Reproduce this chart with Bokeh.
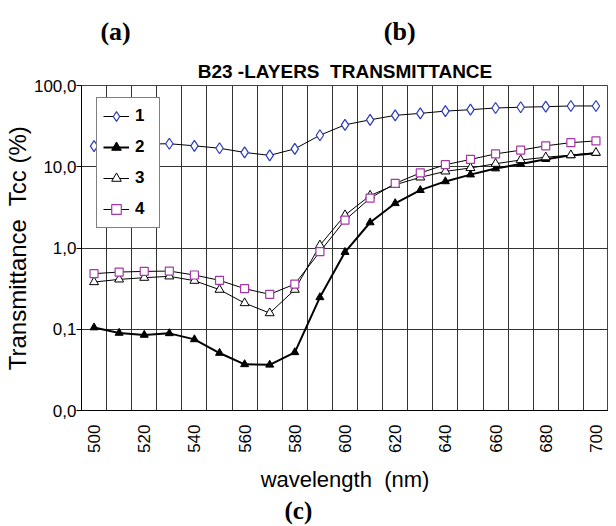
import numpy as np
from bokeh.plotting import figure
from bokeh.layouts import column
from bokeh.models import FixedTicker, Range1d, Legend, LegendItem, Title
from bokeh.core.properties import value
from bokeh.embed import file_html
from bokeh.resources import INLINE

# ---- data ----
wavelength = [500, 510, 520, 530, 540, 550, 560, 570, 580, 590, 600,
              610, 620, 630, 640, 650, 660, 670, 680, 690, 700]
series1 = [17.9, 18.5, 19.0, 19.2, 18.1, 16.9, 15.0, 13.8, 16.6, 24.4, 32.8,
           37.8, 42.9, 45.4, 48.4, 50.4, 52.9, 54.0, 54.9, 56.0, 56.0]
series2 = [0.105, 0.090, 0.085, 0.089, 0.075, 0.051, 0.037, 0.0365, 0.052, 0.247, 0.89,
           2.06, 3.55, 5.15, 6.6, 8.0, 9.5, 10.8, 12.4, 13.8, 14.7]
series3 = [0.381, 0.411, 0.431, 0.448, 0.396, 0.307, 0.210, 0.158, 0.307, 1.08, 2.54,
           4.42, 6.0, 7.4, 8.77, 9.66, 10.9, 12.1, 13.1, 13.9, 14.9]
series4 = [0.483, 0.506, 0.515, 0.520, 0.465, 0.400, 0.316, 0.269, 0.360, 0.90, 2.20,
           4.10, 6.23, 8.39, 10.6, 12.3, 14.4, 16.0, 18.1, 19.8, 20.8]
series_names = ["1", "2", "3", "4"]
x_tick_values = [500, 520, 540, 560, 580, 600, 620, 640, 660, 680, 700]
y_tick_values = [0.01, 0.1, 1, 10, 100]
y_tick_labels = ["0,0", "0,1", "1,0", "10,0", "100,0"]
panel_letters_top = ["(a)", "(b)"]
panel_letter_bottom = "(c)"

FONT = "Liberation Sans"
SERIF = "Liberation Serif"
NB = "\u00a0"

W = 608
HEADER_H = 48
LEFT = 78

# ---- header with panel letters (a), (b) ----
header = figure(width=W, height=HEADER_H, x_range=Range1d(LEFT, W),
                y_range=Range1d(0, HEADER_H),
                output_backend="svg", toolbar_location=None,
                x_axis_location=None, y_axis_location=None, min_border=0)
header.grid.visible = False
header.outline_line_color = None
header.text(x=[97, 382], y=[17.5, 17.5], text=panel_letters_top,
            text_font=value(SERIF), text_font_size="26px", text_font_style="bold",
            text_color="black", text_baseline="alphabetic", text_align="left")

# ---- main chart ----
step = wavelength[1] - wavelength[0]
x0 = wavelength[0] - step / 2
x1 = wavelength[-1] + step / 2

p = figure(width=W, height=526 - HEADER_H,
           x_range=Range1d(x0, x1), y_range=Range1d(y_tick_values[0], y_tick_values[-1]),
           y_axis_type="log", output_backend="svg", toolbar_location=None,
           min_border_left=LEFT, min_border_right=0, min_border_top=85 - HEADER_H,
           min_border_bottom=116)
p.background_fill_color = "white"
p.border_fill_color = "white"
p.outline_line_color = "#444444"

title = Title(text="B23 -LAYERS" + NB + " TRANSMITTANCE", align="center",
              text_font=FONT, text_font_size="19px", text_font_style="bold",
              text_color="black", standoff=8)
p.add_layout(title, "above")

# axes
xa = p.xaxis[0]
xa.ticker = FixedTicker(ticks=x_tick_values)
xa.major_label_orientation = np.pi / 2
xa.major_tick_out = 0
xa.major_tick_in = 0
xa.minor_tick_out = 0
xa.minor_tick_in = 0
xa.major_label_standoff = 14
xa.major_label_text_font = FONT
xa.major_label_text_font_size = "17px"
xa.major_label_text_color = "black"
xa.axis_line_color = "black"
xa.axis_label = "wavelength" + NB + " (nm)"
xa.axis_label_text_font = FONT
xa.axis_label_text_font_size = "22px"
xa.axis_label_text_font_style = "normal"
xa.axis_label_text_color = "black"
xa.axis_label_standoff = 11

ya = p.yaxis[0]
ya.ticker = FixedTicker(ticks=y_tick_values, minor_ticks=[])
ya.major_label_overrides = {v: s for v, s in zip(y_tick_values, y_tick_labels)}
ya.major_tick_out = 5
ya.major_tick_in = 0
ya.minor_tick_out = 0
ya.minor_tick_in = 0
ya.major_label_standoff = 0
ya.major_label_text_font = FONT
ya.major_label_text_font_size = "17px"
ya.major_label_text_color = "black"
ya.axis_line_color = "black"
ya.axis_label = "Transmittance" + NB + " Tcc (%)"
ya.axis_label_text_font = FONT
ya.axis_label_text_font_size = "24px"
ya.axis_label_text_font_style = "normal"
ya.axis_label_text_color = "black"
ya.axis_label_standoff = 0

# bottom panel letter (c)
ctitle = Title(text=panel_letter_bottom, align="left", offset=203,
               text_font=SERIF, text_font_size="25px", text_font_style="bold",
               text_color="black", standoff=0)
p.add_layout(ctitle, "below")

# grid: vertical lines at category boundaries, horizontal at decades
p.xgrid.ticker = FixedTicker(ticks=[w + step / 2 for w in wavelength[:-1]])
p.xgrid.grid_line_color = "#333333"
p.xgrid.grid_line_width = 1
p.ygrid.grid_line_color = "#333333"
p.ygrid.grid_line_width = 1

# series
l1 = p.line(wavelength, series1, line_color="black", line_width=1)
m1 = p.scatter(wavelength, series1, marker="diamond", size=11,
               line_color="#2a3cb8", fill_color="white", line_width=1.2)
l2 = p.line(wavelength, series2, line_color="black", line_width=2)
m2 = p.scatter(wavelength, series2, marker="triangle", size=8,
               line_color="black", fill_color="black", line_width=1)
l3 = p.line(wavelength, series3, line_color="black", line_width=1)
m3 = p.scatter(wavelength, series3, marker="triangle", size=9,
               line_color="black", fill_color="white", line_width=1)
l4 = p.line(wavelength, series4, line_color="black", line_width=1)
m4 = p.scatter(wavelength, series4, marker="square", size=8,
               line_color="#a438a8", fill_color="white", line_width=1.2)

renderers = [(l1, m1), (l2, m2), (l3, m3), (l4, m4)]
items = [LegendItem(label=name, renderers=[l, m])
         for name, (l, m) in zip(series_names, renderers)]

legend = Legend(items=items, location=(15, 182), padding=6,
                spacing=7, glyph_width=26, glyph_height=24, label_height=24,
                label_width=18, label_standoff=6,
                label_text_font=FONT, label_text_font_size="17px",
                label_text_font_style="bold", label_text_color="black",
                border_line_color="black", border_line_width=1,
                background_fill_color="white", background_fill_alpha=1)
p.add_layout(legend, "center")

layout = column(header, p, spacing=0)
open("out.html", "w").write(file_html(layout, INLINE))
